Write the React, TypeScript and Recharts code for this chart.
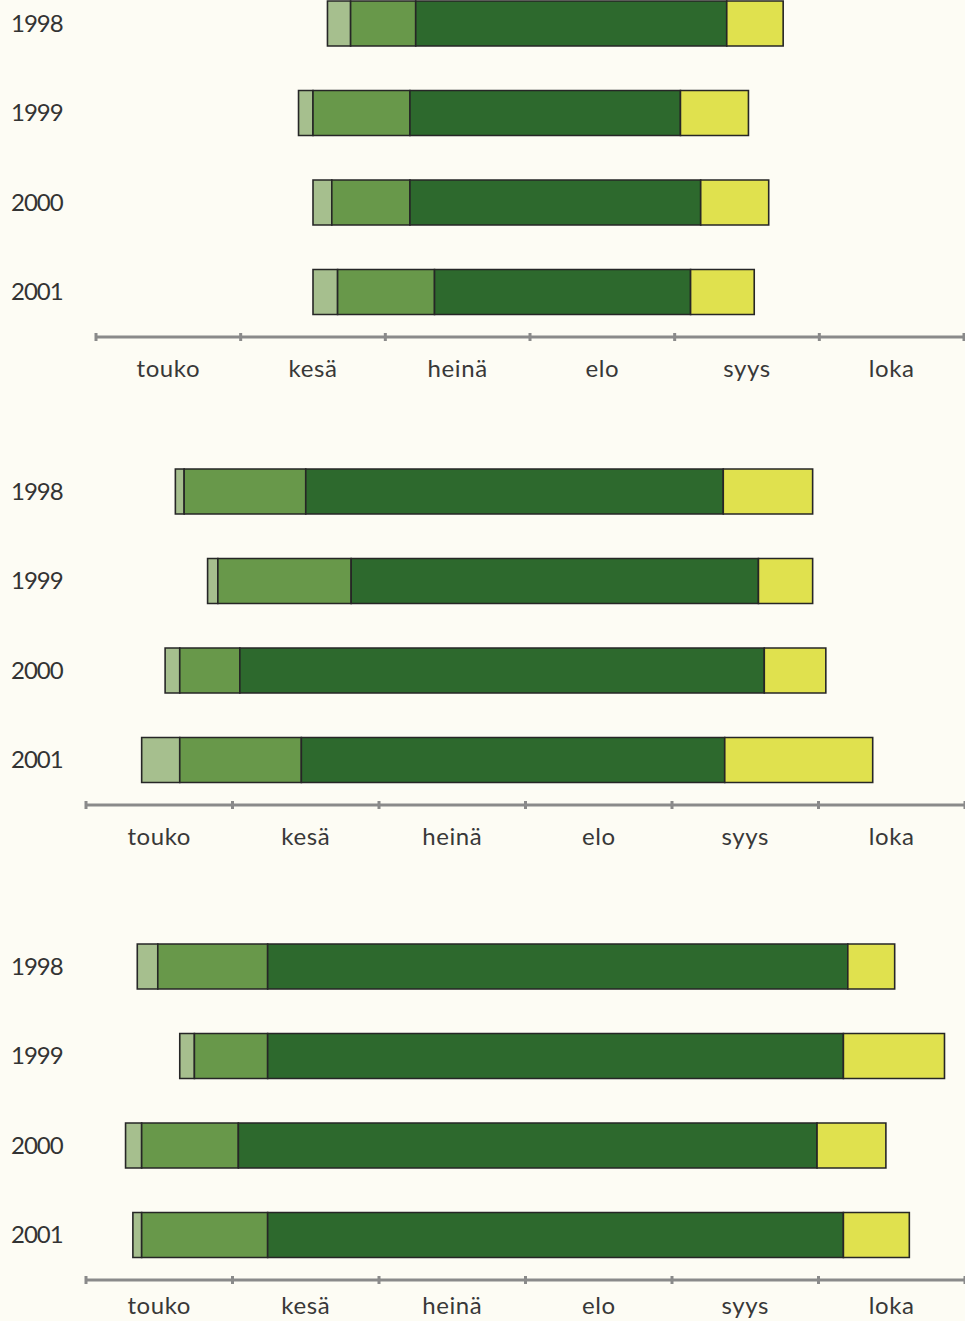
import React from 'react';
import { BarChart, Bar, XAxis, YAxis } from 'recharts';

// Month names on the axis (May..October); values are in months from 1 May
const MONTHS = ['touko', 'kesä', 'heinä', 'elo', 'syys', 'loka'];
const MONTH_TICKS = [0, 1, 2, 3, 4, 5, 6];
const YEARS = ['1998', '1999', '2000', '2001'];

// Panel A (top): phase boundaries, in months from 1 May
const aStart = [1.60, 1.40, 1.50, 1.50];
const aPhase1End = [1.76, 1.50, 1.63, 1.67];
const aPhase2End = [2.21, 2.17, 2.17, 2.34];
const aPhase3End = [4.36, 4.04, 4.18, 4.11];
const aEnd = [4.75, 4.51, 4.65, 4.55];

// Panel B (middle)
const bStart = [0.61, 0.83, 0.54, 0.38];
const bPhase1End = [0.67, 0.90, 0.64, 0.64];
const bPhase2End = [1.50, 1.81, 1.05, 1.47];
const bPhase3End = [4.35, 4.59, 4.63, 4.36];
const bEnd = [4.96, 4.96, 5.05, 5.37];

// Panel C (bottom)
const cStart = [0.35, 0.64, 0.27, 0.32];
const cPhase1End = [0.49, 0.74, 0.38, 0.38];
const cPhase2End = [1.24, 1.24, 1.04, 1.24];
const cPhase3End = [5.20, 5.17, 4.99, 5.17];
const cEnd = [5.52, 5.86, 5.46, 5.62];

const COLORS = ['#a6bf8e', '#68984a', '#2d692d', '#e0e14e'];
const BG = '#fdfcf4';
const FONT = 'Lato, "Open Sans", sans-serif';

function buildRows(start: number[], p1: number[], p2: number[], p3: number[], end: number[]) {
  return YEARS.map((year, i) => ({
    year,
    offset: start[i],
    s1: +(p1[i] - start[i]).toFixed(3),
    s2: +(p2[i] - p1[i]).toFixed(3),
    s3: +(p3[i] - p2[i]).toFixed(3),
    s4: +(end[i] - p3[i]).toFixed(3),
  }));
}

const panels = [
  { data: buildRows(aStart, aPhase1End, aPhase2End, aPhase3End, aEnd), top: -21, left: 96, right: 1, labelDy: 40 },
  { data: buildRows(bStart, bPhase1End, bPhase2End, bPhase3End, bEnd), top: 447, left: 86, right: 0, labelDy: 40 },
  { data: buildRows(cStart, cPhase1End, cPhase2End, cPhase3End, cEnd), top: 922, left: 86, right: 0, labelDy: 34 },
];

const CHART_W = 965;
const PLOT_H = 358;
const AXIS_H = 60;

function MonthTick(props: any) {
  const { x, y, payload, pxPerMonth, labelDy } = props;
  const v = payload.value as number;
  return (
    <g>
      <rect x={x - 1.5} y={y - 4} width={3} height={8} fill="#8a8a8a" />
      {v < 6 && (
        <text
          x={x + pxPerMonth / 2}
          y={y + labelDy}
          textAnchor="middle"
          fontFamily={FONT}
          fontSize={24}
          letterSpacing={0.6}
          fill="#383838"
        >
          {MONTHS[v]}
        </text>
      )}
    </g>
  );
}

function YearTick(props: any) {
  const { y, payload } = props;
  return (
    <text x={11} y={y} dy={8} textAnchor="start" fontFamily={FONT} fontSize={24} letterSpacing={-1} fill="#333333">
      {payload.value}
    </text>
  );
}

function Panel({ data, top, left, right, labelDy }: any) {
  const pxPerMonth = (CHART_W - left - right) / 6;
  return (
    <div style={{ position: 'absolute', left: 0, top }}>
      <BarChart
        width={CHART_W}
        height={PLOT_H + AXIS_H}
        data={data}
        layout="vertical"
        margin={{ top: 0, right, bottom: 0, left: 0 }}
        barSize={45}
      >
        <XAxis
          type="number"
          domain={[0, 6]}
          ticks={MONTH_TICKS}
          allowDataOverflow
          height={AXIS_H}
          axisLine={{ stroke: '#8a8a8a', strokeWidth: 3 }}
          tickLine={false}
          tickSize={0}
          tickMargin={0}
          interval={0}
          tick={(p: any) => <MonthTick {...p} pxPerMonth={pxPerMonth} labelDy={labelDy} />}
        />
        <YAxis
          type="category"
          dataKey="year"
          width={left}
          axisLine={false}
          tickLine={false}
          tick={(p: any) => <YearTick {...p} />}
        />
        <Bar dataKey="offset" stackId="a" fill="transparent" stroke="none" isAnimationActive={false} />
        <Bar dataKey="s1" stackId="a" fill={COLORS[0]} stroke="#262626" strokeWidth={1.6} isAnimationActive={false} />
        <Bar dataKey="s2" stackId="a" fill={COLORS[1]} stroke="#262626" strokeWidth={1.6} isAnimationActive={false} />
        <Bar dataKey="s3" stackId="a" fill={COLORS[2]} stroke="#262626" strokeWidth={1.6} isAnimationActive={false} />
        <Bar dataKey="s4" stackId="a" fill={COLORS[3]} stroke="#262626" strokeWidth={1.6} isAnimationActive={false} />
      </BarChart>
    </div>
  );
}

export default function App() {
  return (
    <div
      style={{
        position: 'absolute',
        left: 0,
        top: 0,
        width: 965,
        height: 1321,
        overflow: 'hidden',
        background: BG,
      }}
    >
      {panels.map((p, i) => (
        <Panel key={i} {...p} />
      ))}
    </div>
  );
}
